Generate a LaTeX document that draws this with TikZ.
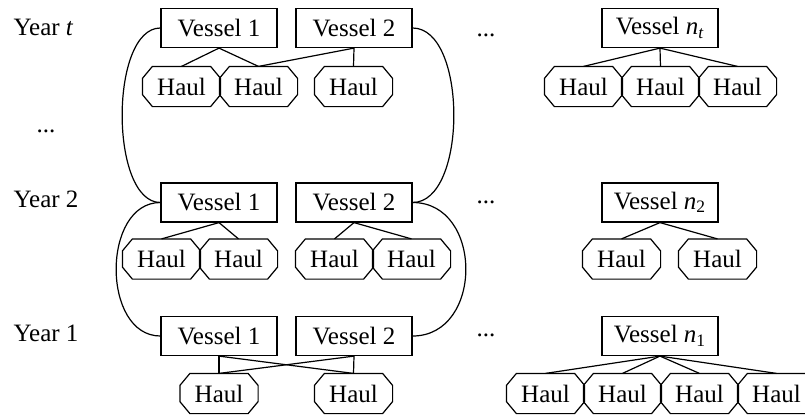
\documentclass[tikz,border=0pt]{standalone}
\usepackage{fontspec}
\setmainfont{Liberation Serif}
\usepackage{amsmath}
\begin{document}
\begin{tikzpicture}[x=0.5pt,y=-0.5pt, line width=0.6pt,
  every node/.style={font=\fontsize{12.5}{14}\selectfont},
  vessel/.style={draw, rectangle, minimum width=58pt, minimum height=19.5pt, inner sep=0pt},
  haul/.style={rectangle, minimum width=38.5pt, minimum height=19.5pt, inner sep=0pt},
  lbl/.style={anchor=west, inner sep=0pt},
  dotsl/.style={anchor=base west, inner sep=0pt},
  link/.style={line width=0.6pt}]
\useasboundingbox (0,0) rectangle (805,414);
% labels
\node[lbl] (yt) at (13,27) {Year \textit{t}};
\node[lbl] (y2) at (13,199) {Year 2};
\node[lbl] (y1) at (13,333) {Year 1};
\node[dotsl] (dl) at (36,132) {...};
\node[dotsl] (dt) at (476,36) {...};
\node[dotsl] (d2) at (476,203) {...};
\node[dotsl] (d1) at (476,336) {...};
% Year t
\node[vessel] (v1t) at (219,28) {Vessel 1};
\node[vessel] (v2t) at (354,28) {Vessel 2};
\node[vessel] (vnt) at (660,28) {Vessel $\textit{n}_{\textit{t}}$};
\node[haul] (ht1) at (181.5,86.5) {Haul};
\node[haul] (ht2) at (258.5,86.5) {Haul};
\node[haul] (ht3) at (353.5,86.5) {Haul};
\node[haul] (hnt1) at (583.5,86.5) {Haul};
\node[haul] (hnt2) at (660.5,86.5) {Haul};
\node[haul] (hnt3) at (737.5,86.5) {Haul};
% Year 2
\node[vessel] (v12) at (219,202.5) {Vessel 1};
\node[vessel] (v22) at (354,202.5) {Vessel 2};
\node[vessel] (vn2) at (660,202.5) {Vessel $\textit{n}_{\text{2}}$};
\node[haul] (h21) at (161.5,259) {Haul};
\node[haul] (h22) at (238.5,259) {Haul};
\node[haul] (h23) at (334.5,259) {Haul};
\node[haul] (h24) at (411.5,259) {Haul};
\node[haul] (hn21) at (621.5,259) {Haul};
\node[haul] (hn22) at (717.5,259) {Haul};
% Year 1
\node[vessel] (v11) at (219,336) {Vessel 1};
\node[vessel] (v21) at (354,336) {Vessel 2};
\node[vessel] (vn1) at (660,336) {Vessel $\textit{n}_{\text{1}}$};
\node[haul] (h11) at (219,393.5) {Haul};
\node[haul] (h12) at (353.5,393.5) {Haul};
\node[haul] (hn11) at (545.5,393.5) {Haul};
\node[haul] (hn12) at (622.5,393.5) {Haul};
\node[haul] (hn13) at (699.5,393.5) {Haul};
\node[haul] (hn14) at (776.5,393.5) {Haul};
% octagon outlines of the haul nodes
\foreach \h in {ht1,ht2,ht3,hnt1,hnt2,hnt3,h21,h22,h23,h24,hn21,hn22,h11,h12,hn11,hn12,hn13,hn14}
  \draw[line join=miter] ([xshift=5pt]\h.north west) -- ([xshift=-5pt]\h.north east)
    -- ([yshift=-6pt]\h.north east) -- ([yshift=6pt]\h.south east)
    -- ([xshift=-5pt]\h.south east) -- ([xshift=5pt]\h.south west)
    -- ([yshift=6pt]\h.south west) -- ([yshift=-6pt]\h.north west) -- cycle;
% tree links
\draw[link] (v1t.south) -- (ht1.north);
\draw[link] (v1t.south) -- (ht2.north);
\draw[link] (v2t.south) -- (ht2.north);
\draw[link] (v2t.south) -- (ht3.north);
\draw[link] (vnt.south) -- (hnt1.north);
\draw[link] (vnt.south) -- (hnt2.north);
\draw[link] (vnt.south) -- (hnt3.north);
\draw[link] (v12.south) -- (h21.north);
\draw[link] (v12.south) -- (h22.north);
\draw[link] (v22.south) -- (h23.north);
\draw[link] (v22.south) -- (h24.north);
\draw[link] (vn2.south) -- (hn21.north);
\draw[link] (vn2.south) -- (hn22.north);
\draw[link] (v11.south) -- (h11.north);
\draw[link] (v11.south) -- (h12.north);
\draw[link] (v21.south) -- (h11.north);
\draw[link] (v21.south) -- (h12.north);
\draw[link] (vn1.south) -- (hn11.north);
\draw[link] (vn1.south) -- (hn12.north);
\draw[link] (vn1.south) -- (hn13.north);
\draw[link] (vn1.south) -- (hn14.north);
% year links
\draw[link] (v1t.west) .. controls +(-51,0) and +(-51,0) .. (v12.west);
\draw[link] (v2t.east) .. controls +(55,0) and +(55,0) .. (v22.east);
\draw[link] (v12.west) .. controls +(-59,0) and +(-59,0) .. (v11.west);
\draw[link] (v22.east) .. controls +(71,0) and +(71,0) .. (v21.east);
\end{tikzpicture}
\end{document}
